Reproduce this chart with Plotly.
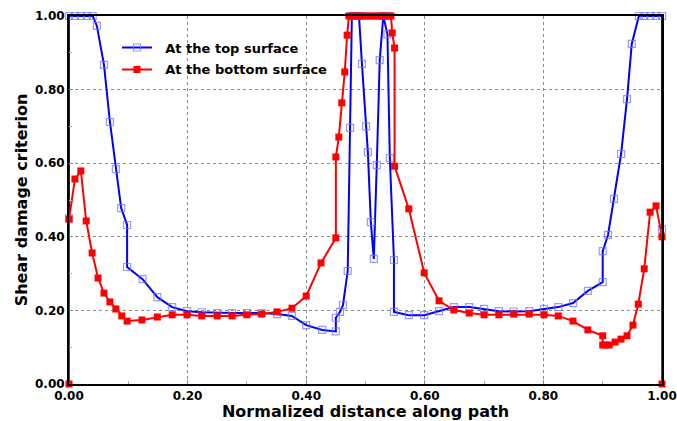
import plotly.graph_objects as go

# Top surface (blue)
top_x = [0.0, 0.0, 0.010, 0.020, 0.030, 0.040, 0.047, 0.059, 0.069, 0.079, 0.088, 0.098, 0.098,
         0.124, 0.149, 0.174, 0.199, 0.224, 0.250, 0.275, 0.300, 0.325, 0.351, 0.376, 0.400,
         0.427, 0.450, 0.450, 0.457, 0.462, 0.470, 0.474, 0.477, 0.483, 0.489, 0.494, 0.501,
         0.504, 0.509, 0.514, 0.519, 0.524, 0.530, 0.537, 0.541, 0.548, 0.548, 0.573, 0.599,
         0.624, 0.649, 0.675, 0.700, 0.725, 0.750, 0.776, 0.801, 0.825, 0.850, 0.875, 0.900,
         0.900, 0.909, 0.919, 0.931, 0.941, 0.949, 0.961, 0.970, 0.980, 0.990, 1.0, 1.0]
top_y = [0.45, 1.0, 1.0, 1.0, 1.0, 1.0, 0.973, 0.867, 0.712, 0.584, 0.478, 0.432, 0.318,
         0.285, 0.236, 0.209, 0.198, 0.195, 0.193, 0.193, 0.193, 0.193, 0.190, 0.185, 0.160,
         0.147, 0.143, 0.180, 0.196, 0.214, 0.307, 0.696, 1.0, 1.0, 1.0, 0.870, 0.700,
         0.630, 0.440, 0.340, 0.595, 0.880, 1.0, 0.950, 0.614, 0.337, 0.196, 0.187, 0.187,
         0.198, 0.209, 0.209, 0.204, 0.198, 0.197, 0.198, 0.204, 0.209, 0.220, 0.253, 0.277,
         0.361, 0.405, 0.503, 0.625, 0.774, 0.924, 1.0, 1.0, 1.0, 1.0, 1.0, 0.42]

# Bottom surface (red)
bot_x = [0.0, 0.0, 0.010, 0.020, 0.029, 0.039, 0.049, 0.059, 0.069, 0.079, 0.089, 0.098,
         0.123, 0.149, 0.174, 0.199, 0.224, 0.250, 0.275, 0.300, 0.325, 0.351, 0.376, 0.400,
         0.425, 0.450, 0.450, 0.455, 0.460, 0.465, 0.469,
         0.472, 0.478, 0.484, 0.490, 0.496, 0.502, 0.508, 0.514, 0.520, 0.526, 0.532, 0.538, 0.543,
         0.545, 0.549, 0.549, 0.573, 0.599, 0.624, 0.649, 0.675, 0.700, 0.725, 0.750, 0.776,
         0.801, 0.825, 0.850, 0.875, 0.900, 0.900, 0.905, 0.911, 0.921, 0.931, 0.941, 0.951,
         0.960, 0.970, 0.980, 0.990, 1.0, 1.0]
bot_y = [0.0, 0.448, 0.557, 0.579, 0.443, 0.356, 0.288, 0.247, 0.223, 0.204, 0.185, 0.171,
         0.174, 0.182, 0.188, 0.188, 0.185, 0.185, 0.185, 0.188, 0.190, 0.196, 0.206, 0.239,
         0.329, 0.397, 0.617, 0.671, 0.764, 0.848, 0.948,
         1.0, 1.0, 1.0, 1.0, 1.0, 1.0, 1.0, 1.0, 1.0, 1.0, 1.0, 1.0, 1.0,
         0.954, 0.913, 0.592, 0.476, 0.302, 0.226, 0.201, 0.193, 0.188, 0.188, 0.190, 0.190,
         0.188, 0.185, 0.171, 0.147, 0.131, 0.106, 0.106, 0.106, 0.114, 0.122, 0.131, 0.160,
         0.217, 0.313, 0.467, 0.484, 0.400, 0.0]

tick_vals = [0.0, 0.2, 0.4, 0.6, 0.8, 1.0]
tick_text = ["0.00", "0.20", "0.40", "0.60", "0.80", "1.00"]

FONT = "DejaVu Sans"

fig = go.Figure()
fig.add_trace(go.Scatter(
    x=top_x, y=top_y, mode="lines+markers", name="\u00a0\u00a0<b>At the top surface</b>",
    legendgroup="top",
    line=dict(color="#0000ff", width=2),
    marker=dict(symbol="square-open", size=7, color="rgba(110,110,255,0.7)",
                line=dict(width=1.2, color="rgba(110,110,255,0.7)")),
    cliponaxis=False,
))
fig.add_trace(go.Scatter(
    x=bot_x, y=bot_y, mode="lines+markers", name="\u00a0\u00a0<b>At the bottom surface</b>",
    legendgroup="bottom",
    line=dict(color="#ff0000", width=2),
    marker=dict(symbol="square", size=7, color="#ff0000"),
    cliponaxis=False,
))

axis_common = dict(
    range=[0, 1], showline=True, linecolor="#000000", linewidth=2, mirror=True,
    showgrid=True, gridcolor="#8a8a8a", griddash="dot", gridwidth=1,
    tickvals=tick_vals, ticktext=tick_text, ticks="inside", ticklen=4, tickcolor="#888",
    minor=dict(ticks="inside", ticklen=3, dtick=0.1, tickcolor="#aaa", showgrid=False),
    tickfont=dict(family=FONT, size=12, color="#000000", weight="bold"),
    zeroline=False,
)

fig.update_layout(
    width=677, height=421,
    margin=dict(l=69, r=15, t=16, b=37, autoexpand=False),
    paper_bgcolor="white", plot_bgcolor="white",
    font=dict(family=FONT, color="#000000"),
    xaxis=dict(**axis_common,
               title=dict(text="<b>Normalized distance along path</b>",
                          font=dict(family=FONT, size=16, color="#000"), standoff=3)),
    yaxis=dict(**axis_common,
               title=dict(text="<b>Shear damage criterion</b>",
                          font=dict(family=FONT, size=16, color="#000"), standoff=3)),
    legend=dict(x=0.081, y=0.955, xanchor="left", yanchor="top",
                bgcolor="rgba(0,0,0,0)", borderwidth=0,
                font=dict(family=FONT, size=13, color="#000"),
                traceorder="grouped", tracegroupgap=2, itemwidth=30),
    showlegend=True,
)

fig.write_html("out.html",
               config={"displayModeBar": False},
               post_script="document.body.style.margin='0';document.body.style.overflow='hidden';")
